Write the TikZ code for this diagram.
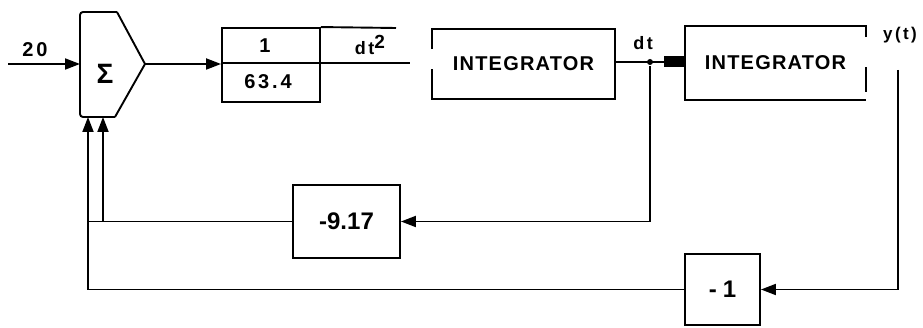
\documentclass[tikz,border=0pt]{standalone}
\usepackage{fontspec}
\setmainfont{Liberation Sans}
\usetikzlibrary{arrows.meta,calc}
\begin{document}
\begin{tikzpicture}[x=1pt,y=-1pt,
  line width=1.9pt, line join=miter,
  arr/.style={-{Triangle[length=15pt,width=11pt]}},
  blk/.style={draw, inner sep=0pt, line width=1.9pt},
  ghost/.style={inner sep=0pt},
  lab/.style={inner sep=0pt, font=\bfseries\fontsize{#1}{#1}\selectfont\addfontfeature{LetterSpace=14}},
  biglab/.style={inner sep=0pt, font=\bfseries\fontsize{#1}{#1}\selectfont\addfontfeature{LetterSpace=6}}]
\useasboundingbox (0,0) rectangle (923,328);

% summing junction
\draw[rounded corners=3pt] (117,12) -- (80,12) -- (80,117) -- (115,117);
\draw (115,117) -- (145,64) -- (117,12);
\node[ghost, font=\bfseries\fontsize{28}{28}\selectfont] (sum) at (105,74) {Σ};
\coordinate (sumIn) at (80,64);
\coordinate (sumOut) at (145,64);
\coordinate (sumB1) at (88,117);
\coordinate (sumB2) at (103,117);

% input
\coordinate (in) at (8,64);
\draw[arr] (in) -- (sumIn);
\node[lab=20] (l20) at (35,50) {20};

% gain block 1 / (63.4 dt^2)
\node[blk, minimum width=98pt, minimum height=74pt] (gain) at (271,65) {};
\coordinate (divEnd) at (410,63);
\coordinate (topEnd) at (396,28);
\draw (gain.west |- divEnd) -- (divEnd);
\draw (gain.north east) -- (topEnd);
\node[lab=20] (gnum) at (265,46) {1};
\node[lab=20] (gden) at (268,82) {63.4};
\node[lab=18] (dt2) at (370,45) {dt\raisebox{6pt}{\fontsize{19}{19}\selectfont 2}};
\draw[arr] (sumOut) -- (gain.west |- sumOut);

% integrator 1
\node[ghost, minimum width=181pt, minimum height=68pt, biglab=20] (int1) at (523.5,64) {INTEGRATOR};
\draw ($(int1.north west)+(0,20)$) -- (int1.north west) -- (int1.north east) -- (int1.south east) -- (int1.south west) -- ++(0,-30);

% integrator 2
\node[ghost, minimum width=179pt, minimum height=72pt, biglab=20] (int2) at (775.5,63) {INTEGRATOR};
\draw ($(int2.north east)+(0,11)$) -- (int2.north east) -- (int2.north west) -- (int2.south west) -- (int2.south east);
\draw ($(int2.north east)+(0,41)$) -- ($(int2.north east)+(0,66)$);

% connection between integrators
\coordinate (j) at (650,62);
\draw (int1.east |- j) -- (int2.west |- j);
\node[circle, fill, inner sep=0pt, minimum size=6pt] (jd) at (j) {};
\node[fill, inner sep=0pt, minimum width=20pt, minimum height=11pt, anchor=east] (plug) at (int2.west |- j) {};
\node[lab=18] (ldt) at (643,43) {dt};

% output
\coordinate (ytop) at (898,70);
\node[lab=17] (lyt) at (900,35) {y(t)};

% feedback gains
\node[blk, minimum width=107pt, minimum height=73pt, font=\bfseries\fontsize{24}{24}\selectfont] (k917) at (346.5,221.5) {-9.17};
\node[blk, minimum width=75pt, minimum height=71pt, font=\bfseries\fontsize{24}{24}\selectfont\addfontfeature{LetterSpace=25}] (k1) at (722.5,289.5) {-1};

\draw[arr] (jd) -- (jd |- k917.east) -- (k917.east);
\draw[arr] (ytop) -- (ytop |- k1.east) -- (k1.east);

\draw (k917.west) -- (sumB1 |- k917.west);
\draw[arr] (sumB2 |- k917.west) -- (sumB2);
\draw[arr] (k1.west) -- (sumB1 |- k1.west) -- (sumB1);
\end{tikzpicture}
\end{document}
